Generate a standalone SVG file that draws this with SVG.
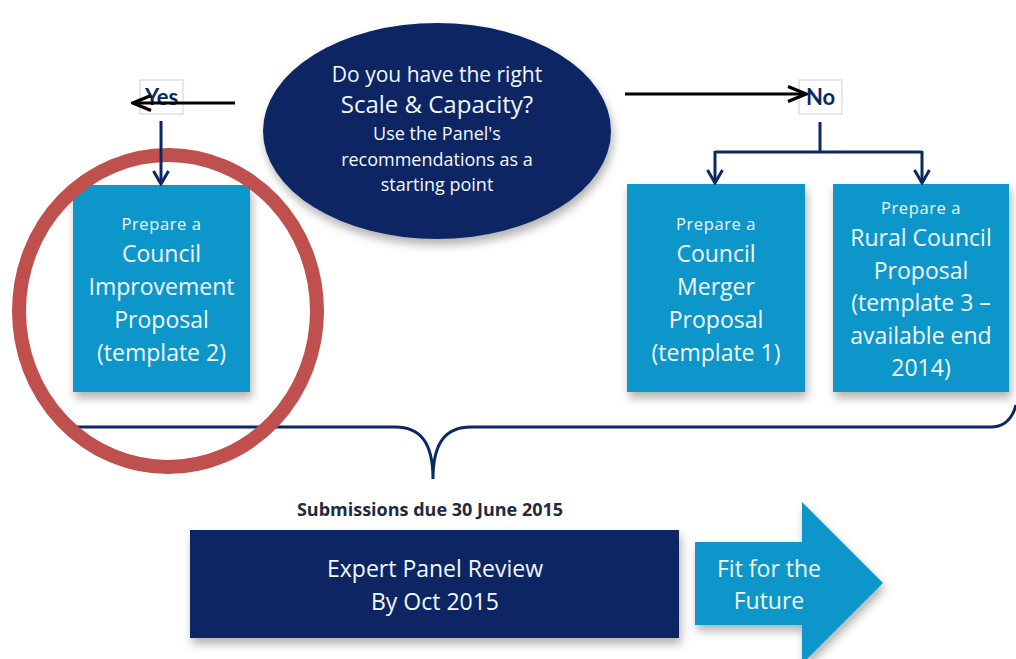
<svg xmlns="http://www.w3.org/2000/svg" width="1016" height="659" viewBox="0 0 1016 659">
  <defs>
    <style>
      .txt { font-family: "Open Sans", Lato, "Liberation Sans", sans-serif; text-anchor: middle; }
      .white { fill: #f3f8fb; }
      .box { fill: #0796ca; filter: url(#shadow); }
      .navybox { fill: #0c2864; filter: url(#shadow); }
      .tag { fill: #ffffff; stroke: #d4d8de; stroke-width: 1.2; }
      .tagtxt { font-family: Lato, "Open Sans", sans-serif; fill: #0c2864; font-weight: bold; font-size: 22px; }
      .sm { font-size: 16.5px; letter-spacing: 0.6px; }
      .lg { font-size: 23px; }
      .q { font-size: 18px; }
      .black-arrow { fill: none; stroke: #000000; stroke-width: 3.2; marker-end: url(#chevBlack); }
      .navy-line { fill: none; stroke: #0c2864; stroke-width: 3; }
      .navy-arrow { fill: none; stroke: #0c2864; stroke-width: 3; marker-end: url(#chevNavy); }
    </style>
    <filter id="shadow" x="-10%" y="-10%" width="130%" height="135%">
      <feDropShadow dx="2" dy="6" stdDeviation="5" flood-color="#000000" flood-opacity="0.3"/>
    </filter>
    <marker id="chevBlack" viewBox="0 0 22 18" refX="20" refY="9" markerWidth="22" markerHeight="18" markerUnits="userSpaceOnUse" orient="auto">
      <path d="M2,1.5 L20,9 L2,16.5" fill="none" stroke="#000000" stroke-width="3.2"/>
    </marker>
    <marker id="chevNavy" viewBox="0 0 16 18" refX="14" refY="9" markerWidth="16" markerHeight="18" markerUnits="userSpaceOnUse" orient="auto">
      <path d="M1,1.5 L14,9 L1,16.5" fill="none" stroke="#0c2864" stroke-width="3"/>
    </marker>
  </defs>

  <rect width="1016" height="659" fill="#ffffff"/>

  <!-- brace gathering the three proposals -->
  <g id="brace">
    <path class="navy-line" d="M72,427 H395 C420,427 433,442 433,479 C433,442 446,427 471,427 H990 C1004,427 1012,420 1016,405"/>
  </g>

  <!-- decision question -->
  <g id="question">
    <ellipse cx="437" cy="131" rx="174" ry="108" fill="#0c2864" filter="url(#shadow)"/>
    <text class="txt white" x="437" y="82" font-size="21">Do you have the right</text>
    <text class="txt white" x="437" y="113" font-size="24">Scale &amp; Capacity?</text>
    <text class="txt white q" x="437" y="140">Use the Panel's</text>
    <text class="txt white q" x="437" y="166">recommendations as a</text>
    <text class="txt white q" x="437" y="191">starting point</text>
  </g>

  <g id="yes">
    <rect class="tag" x="140" y="80" width="43" height="34"/>
    <text class="txt tagtxt" x="161.5" y="105">Yes</text>
  </g>

  <g id="no">
    <rect class="tag" x="799" y="80" width="43" height="34"/>
    <text class="txt tagtxt" x="820.5" y="105">No</text>
  </g>

  <g id="improvement">
    <rect class="box" x="73" y="185" width="177" height="207"/>
    <text class="txt white sm" x="161.5" y="230">Prepare a</text>
    <text class="txt white lg" x="161.5" y="262">Council</text>
    <text class="txt white lg" x="161.5" y="295">Improvement</text>
    <text class="txt white lg" x="161.5" y="328">Proposal</text>
    <text class="txt white lg" x="161.5" y="361">(template 2)</text>
  </g>

  <g id="merger">
    <rect class="box" x="627" y="184" width="178" height="208"/>
    <text class="txt white sm" x="716" y="230">Prepare a</text>
    <text class="txt white lg" x="716" y="262">Council</text>
    <text class="txt white lg" x="716" y="295">Merger</text>
    <text class="txt white lg" x="716" y="328">Proposal</text>
    <text class="txt white lg" x="716" y="361">(template 1)</text>
  </g>

  <g id="rural">
    <rect class="box" x="833" y="184" width="176" height="208"/>
    <text class="txt white sm" x="921" y="214">Prepare a</text>
    <text class="txt white lg" x="921" y="246">Rural Council</text>
    <text class="txt white lg" x="921" y="279">Proposal</text>
    <text class="txt white lg" x="921" y="311">(template 3 –</text>
    <text class="txt white lg" x="921" y="344">available end</text>
    <text class="txt white lg" x="921" y="376">2014)</text>
  </g>

  <g id="submissions">
    <text class="txt" x="430" y="516" font-size="18" font-weight="bold" fill="#1f2940">Submissions due 30 June 2015</text>
  </g>

  <g id="review">
    <rect class="navybox" x="190" y="530" width="489" height="108"/>
    <text class="txt white" x="435" y="577" font-size="23">Expert Panel Review</text>
    <text class="txt white" x="435" y="610" font-size="23">By Oct 2015</text>
  </g>

  <g id="future">
    <polygon points="695,542 802,542 802,502 883,583 802,664 802,625 695,625" fill="#0796ca" filter="url(#shadow)"/>
    <text class="txt white" x="769" y="577" font-size="23">Fit for the</text>
    <text class="txt white" x="769" y="609" font-size="23">Future</text>
  </g>

  <!-- highlight ring -->
  <g id="highlight">
    <ellipse cx="168" cy="311" rx="149" ry="156" fill="none" stroke="#c0504d" stroke-width="14"/>
  </g>

  <!-- connectors -->
  <g id="connectors">
    <line class="black-arrow" x1="235" y1="103" x2="133" y2="103"/>
    <line class="black-arrow" x1="625" y1="94" x2="806" y2="94"/>
    <line class="navy-arrow" x1="161" y1="121" x2="161" y2="184"/>
    <path class="navy-line" d="M820,122 V152 M715,152 H922"/>
    <line class="navy-arrow" x1="715" y1="151" x2="715" y2="183"/>
    <line class="navy-arrow" x1="922" y1="151" x2="922" y2="183"/>
  </g>
</svg>
